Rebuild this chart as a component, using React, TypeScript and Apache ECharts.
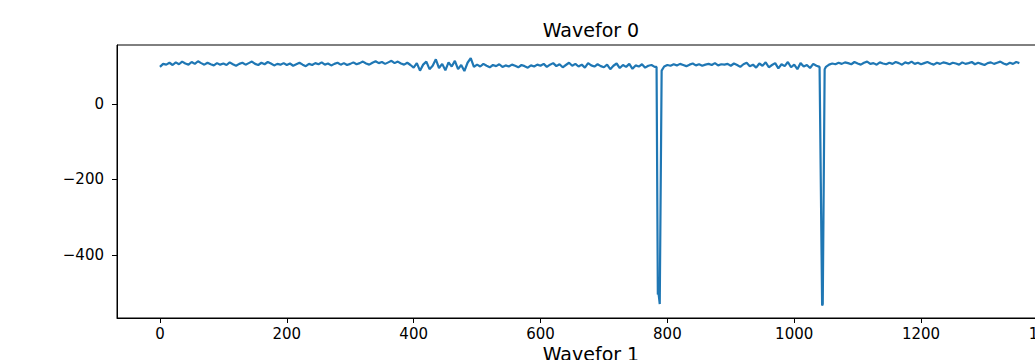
import React, { useEffect, useRef } from "react";
import * as echarts from "echarts";

// Waveform 0 samples
// Segment A: x = 0 .. 780, every 5 samples
const segAStart = 0;
const segAValues = [
  98, 106, 104, 109, 103, 110, 105, 112, 107, 104, 111, 106, 113, 108, 104, 109, 105, 102, 108, 104,
  107, 103, 110, 105, 101, 106, 109, 104, 108, 112, 106, 103, 109, 105, 111, 107, 102, 106, 104, 108,
  103, 107, 101, 105, 109, 104, 100, 106, 103, 108, 105, 110, 104, 107, 102, 106, 109, 104, 108, 103,
  106, 110, 105, 108, 112, 107, 104, 109, 113, 108, 111, 106, 110, 114, 108, 112, 107, 104, 109, 103,
  96, 108, 88, 104, 112, 92, 101, 118, 95, 106, 89, 110, 99, 114, 92, 103, 87, 109, 121, 98,
  104, 99, 106, 101, 97, 103, 100, 105, 98, 102, 99, 104, 101, 97, 103, 100, 96, 102, 99, 104,
  101, 106, 98, 104, 108, 100, 105, 97, 103, 109, 101, 106, 99, 104, 96, 108, 102, 99, 105, 100,
  97, 104, 92, 101, 107, 95, 103, 98, 106, 93, 102, 99, 105, 96, 101, 103, 98,
];
// First spike
const spike1: [number, number][] = [
  [783, 98], [785, -505], [786, -500], [788, -530], [791, 88],
];
// Segment B: x = 795 .. 1035
const segBStart = 795;
const segBValues = [
  99, 103, 101, 105, 102, 106, 103, 100, 104, 107, 102, 105, 101, 104, 106, 103, 108, 102, 105, 104,
  106, 101, 107, 103, 98, 105, 109, 100, 104, 96, 107, 101, 110, 97, 103, 108, 94, 105, 100, 111,
  97, 104, 92, 108, 99, 103, 95, 106, 101,
];
// Second spike
const spike2: [number, number][] = [
  [1040, 98], [1044, -534], [1045, -530], [1048, 92],
];
// Segment C: x = 1050 .. 1355
const segCStart = 1050;
const segCValues = [
  98, 104, 107, 105, 109, 106, 110, 108, 105, 111, 107, 104, 109, 112, 106, 108, 104, 110, 107, 105,
  109, 106, 111, 108, 104, 110, 107, 112, 106, 109, 105, 108, 111, 107, 104, 109, 106, 110, 108, 105,
  109, 107, 104, 110, 106, 108, 111, 105, 109, 106, 103, 108, 110, 106, 109, 112, 107, 104, 109, 106,
  111, 108,
];
const sampleStep = 5;

const xTicks = [0, 200, 400, 600, 800, 1000, 1200, 1400];
const yTicks = [-400, -200, 0];
const xRange = [-67.7, 1421.7];
const yRange = [-567, 156];
const titleText = "Wavefor 0";
const nextTitleText = "Wavefor 1";

function buildData(): [number, number][] {
  const out: [number, number][] = [];
  const seg = (start: number, vals: number[]) =>
    vals.forEach((v, i) => out.push([start + i * sampleStep, v]));
  seg(segAStart, segAValues);
  spike1.forEach((p) => out.push(p));
  seg(segBStart, segBValues);
  spike2.forEach((p) => out.push(p));
  seg(segCStart, segCValues);
  return out;
}

const FONT = "DejaVu Sans";

export default function App() {
  const ref = useRef<HTMLDivElement>(null);
  useEffect(() => {
    if (!ref.current) return;
    const chart = echarts.init(ref.current, undefined, { renderer: "svg" });
    chart.setOption({
      animation: false,
      backgroundColor: "#ffffff",
      grid: {
        left: 117,
        top: 45,
        right: 7,
        bottom: 42,
        show: true,
        borderColor: "#000",
        borderWidth: 1,
        backgroundColor: "transparent",
      },
      graphic: [
        {
          type: "text",
          x: 591,
          y: 30,
          style: {
            text: titleText,
            fill: "#000",
            fontSize: 19,
            fontFamily: FONT,
            align: "center",
            verticalAlign: "middle",
          },
        },
        {
          type: "text",
          x: 591,
          y: 354,
          style: {
            text: nextTitleText,
            fill: "#000",
            fontSize: 19,
            fontFamily: FONT,
            align: "center",
            verticalAlign: "middle",
          },
        },
      ],
      xAxis: {
        type: "value",
        min: xRange[0],
        max: xRange[1],
        splitLine: { show: false },
        axisLine: { show: true, onZero: false, lineStyle: { color: "#000", width: 1 } },
        axisTick: {
          show: true,
          customValues: xTicks,
          length: 5,
          lineStyle: { color: "#000" },
        },
        axisLabel: {
          customValues: xTicks,
          margin: 8,
          color: "#000",
          fontSize: 15,
          fontFamily: FONT,
          showMinLabel: true,
          showMaxLabel: true,
          formatter: (v: number) => String(v),
        },
      },
      yAxis: {
        type: "value",
        min: yRange[0],
        max: yRange[1],
        splitLine: { show: false },
        axisLine: { show: true, onZero: false, lineStyle: { color: "#000", width: 1 } },
        axisTick: {
          show: true,
          customValues: yTicks,
          length: 5,
          lineStyle: { color: "#000" },
        },
        axisLabel: {
          customValues: yTicks,
          margin: 13,
          color: "#000",
          fontSize: 15,
          fontFamily: FONT,
          formatter: (v: number) => String(v).replace("-", "\u2212"),
        },
      },
      series: [
        {
          type: "line",
          data: buildData(),
          showSymbol: false,
          symbol: "none",
          clip: true,
          lineStyle: { color: "#1f77b4", width: 2.2 },
        },
      ],
    });
    return () => chart.dispose();
  }, []);
  return (
    <div
      ref={ref}
      style={{ position: "fixed", left: 0, top: 0, width: 1070, height: 360, background: "#fff" }}
    />
  );
}
